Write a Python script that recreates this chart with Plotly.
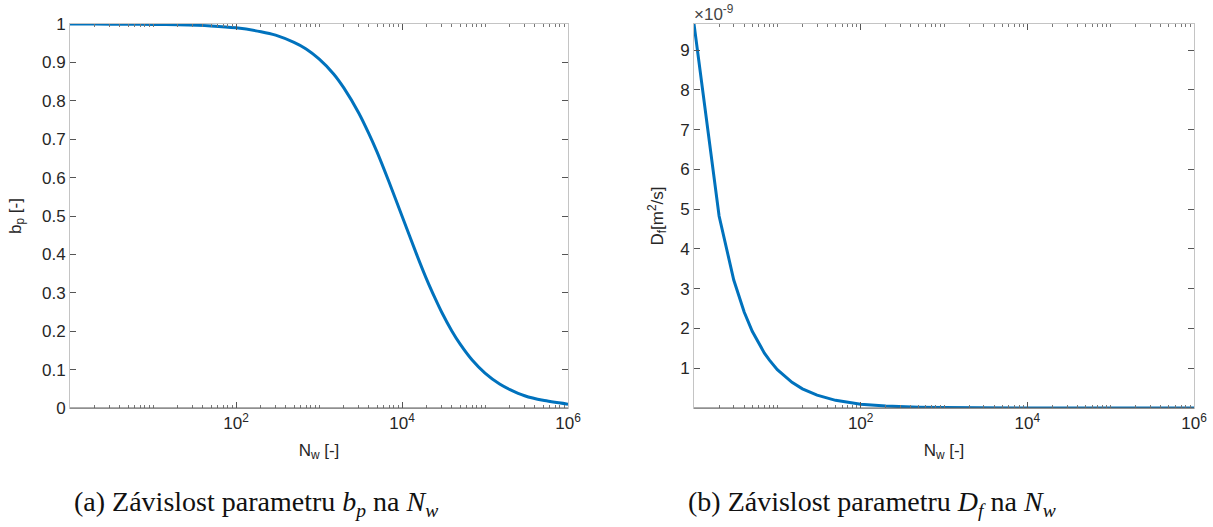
import plotly.graph_objects as go

# b_p as a function of N_w
nw_b = [1, 2, 5, 10, 20, 50, 100, 200, 300, 500, 700, 1000, 1500, 2000, 3000, 4000, 5000,
        7000, 10000, 15000, 20000, 25000, 30000, 40000, 50000, 70000, 100000,
        150000, 200000, 300000, 500000, 1000000]
b_p = [0.9999, 0.9998, 0.9995, 0.999, 0.998, 0.995, 0.990, 0.980, 0.971, 0.952, 0.935, 0.909,
       0.870, 0.833, 0.769, 0.714, 0.667, 0.588, 0.500, 0.400, 0.333, 0.286,
       0.250, 0.200, 0.167, 0.125, 0.091, 0.0625, 0.048, 0.032, 0.020, 0.010]

# D_f as a function of N_w (values in 1e-9 m^2/s)
nw_d = [1, 2, 3, 4, 5, 6, 7, 8, 9, 10, 15, 20, 30, 50, 100, 200, 500, 1000,
        10000, 100000, 1000000]
d_f = [9.66, 4.83, 3.22, 2.415, 1.93, 1.61, 1.38, 1.21, 1.07, 0.966, 0.644,
       0.483, 0.322, 0.193, 0.0966, 0.0483, 0.0193, 0.00966, 0.000966,
       0.0000966, 0.00000966]
d_scale = 1e-9

b_ticks = [0, 0.1, 0.2, 0.3, 0.4, 0.5, 0.6, 0.7, 0.8, 0.9, 1]
d_ticks = [1, 2, 3, 4, 5, 6, 7, 8, 9]
x_major = [100, 10000, 1000000]
x_major_text = ["10<sup>2</sup>", "10<sup>4</sup>", "10<sup>6</sup>"]
decades = [1, 10, 100, 1000, 10000, 100000]
x_minor = [m * d for d in decades for m in range(1, 10) if m * d not in x_major and m * d > 1]

W, H = 1213, 527
ML, MR, MT, MB = 70, 19, 24, 119
PW, PH = W - ML - MR, H - MT - MB
BLUE = "#0072BD"
TXT = "#262626"
FONT = "Liberation Sans, Arial, sans-serif"
FS = 17

fig = go.Figure()
fig.add_trace(go.Scatter(x=nw_b, y=b_p, mode="lines",
                         line=dict(color=BLUE, width=3, shape="spline", smoothing=0.6),
                         xaxis="x", yaxis="y", showlegend=False))
fig.add_trace(go.Scatter(x=nw_d, y=[v * d_scale for v in d_f], mode="lines",
                         line=dict(color=BLUE, width=3),
                         xaxis="x2", yaxis="y2", showlegend=False))


def xaxis(domain, anchor):
    return dict(domain=domain, anchor=anchor, type="log", range=[0, 6], automargin=False,
                tickmode="array", tickvals=x_major, ticktext=x_major_text,
                ticks="inside", ticklen=6, tickcolor="#555", tickwidth=1,
                minor=dict(tickmode="array", tickvals=x_minor, ticks="inside", ticklen=3,
                           tickcolor="#777", tickwidth=1, showgrid=False),
                showline=True, linecolor="#c4c4c4", linewidth=1, mirror="allticks",
                showgrid=False, zeroline=False,
                tickfont=dict(family=FONT, size=FS, color=TXT),
                title=dict(text="N<sub>w</sub> [-]", font=dict(family=FONT, size=FS, color=TXT), standoff=11))


def yaxis(domain, anchor, rng, vals, text, title, standoff):
    return dict(domain=domain, anchor=anchor, range=rng, automargin=False,
                tickmode="array", tickvals=vals, ticktext=text,
                ticks="inside", ticklen=6, tickcolor="#555", tickwidth=1,
                showline=True, linecolor="#c4c4c4", linewidth=1, mirror="allticks",
                showgrid=False, zeroline=False,
                tickfont=dict(family=FONT, size=FS, color=TXT),
                title=dict(text=title, font=dict(family=FONT, size=FS, color=TXT), standoff=standoff))


x1dom = [0, (568 - ML) / PW]
x2dom = [(694 - ML) / PW, 1]

fig.update_layout(
    width=W, height=H, margin=dict(l=ML, r=MR, t=MT, b=MB, autoexpand=False),
    paper_bgcolor="white", plot_bgcolor="white",
    xaxis=xaxis(x1dom, "y"),
    yaxis=yaxis([0, 1], "x", [0, 1], b_ticks, [f"{v:g}" for v in b_ticks], "b<sub>p</sub> [-]", 16),
    xaxis2=xaxis(x2dom, "y2"),
    yaxis2=yaxis([0, 1], "x2", [0, 9.66e-9], [v * d_scale for v in d_ticks], [str(v) for v in d_ticks],
                 "D<sub>f</sub>[m<sup>2</sup>/s]", 12),
)

# darker bottom axis lines
for xr, yr in (("x", "y"), ("x2", "y2")):
    fig.add_shape(type="line", xref=f"{xr} domain", yref=f"{yr} domain", x0=0, x1=1, y0=0, y1=0,
                  line=dict(color="#5a5a5a", width=1))

# exponent label for the D_f axis
fig.add_annotation(text="×10<sup>-9</sup>", xref="x2 domain", yref="y2 domain", x=0, y=1,
                   xanchor="left", yanchor="bottom", showarrow=False, xshift=-2, yshift=-2,
                   font=dict(family=FONT, size=FS, color="#444"))

CAP_Y = -(503 - MT - PH) / PH
SERIF = "Liberation Serif, Times New Roman, serif"
fig.add_annotation(text="(a) Závislost parametru <i>b</i><sub><i>p</i></sub> na <i>N</i><sub><i>w</i></sub>",
                   xref="paper", yref="paper", x=(256 - ML) / PW, y=CAP_Y, xanchor="center", yanchor="middle",
                   showarrow=False, font=dict(family=SERIF, size=28, color="#111"))
fig.add_annotation(text="(b) Závislost parametru <i>D</i><sub><i>f</i></sub> na <i>N</i><sub><i>w</i></sub>",
                   xref="paper", yref="paper", x=(872 - ML) / PW, y=CAP_Y, xanchor="center", yanchor="middle",
                   showarrow=False, font=dict(family=SERIF, size=28, color="#111"))

fig.write_html("out.html")
